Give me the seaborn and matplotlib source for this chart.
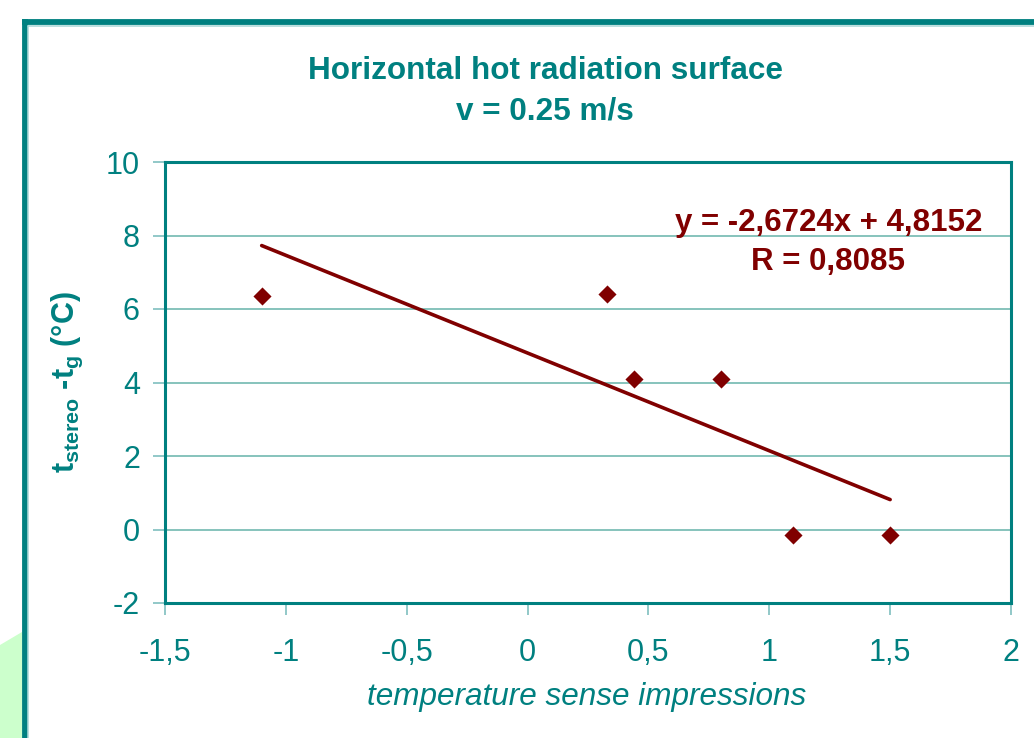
import numpy as np
import matplotlib
matplotlib.use("Agg")
import matplotlib.pyplot as plt
import seaborn as sns
from matplotlib.lines import Line2D
from matplotlib.patches import Polygon
from matplotlib.ticker import FuncFormatter

# values
impression = [-1.1, 0.33, 0.44, 0.8, 1.1, 1.5]
temp_diff = [6.35, 6.4, 4.1, 4.1, -0.15, -0.15]
x_ticks = [-1.5, -1, -0.5, 0, 0.5, 1, 1.5, 2]
y_ticks = [-2, 0, 2, 4, 6, 8, 10]
title_lines = ["Horizontal hot radiation surface", "v = 0.25 m/s"]
eq_text = "y = -2,6724x + 4,8152"
r_text = "R = 0,8085"

TEAL = "#008080"
LIGHT_TEAL = "#7FBFBF"
GRID = "#66B3AA"
DARK_RED = "#800000"

sns.set_theme(style="white")
plt.rcParams["font.family"] = ["Liberation Sans", "DejaVu Sans"]
plt.rcParams["mathtext.fontset"] = "custom"
plt.rcParams["mathtext.bf"] = "Liberation Sans:bold"
plt.rcParams["mathtext.rm"] = "Liberation Sans"

fig = plt.figure(figsize=(10.34, 7.38), dpi=100)
W, H = 1034, 738
ax = fig.add_axes([165 / W, 1 - 603 / H, (1011 - 165) / W, (603 - 162) / H])

sns.scatterplot(x=impression, y=temp_diff, marker="D", s=85, color=DARK_RED,
                edgecolor=DARK_RED, linewidth=0, ax=ax, zorder=3)
sns.regplot(x=impression, y=temp_diff, scatter=False, ci=None, color=DARK_RED,
            line_kws={"linewidth": 2.6}, ax=ax)

ax.set_xlim(-1.5, 2)
ax.set_ylim(-2, 10)
ax.set_xticks(x_ticks)
ax.set_yticks(y_ticks)
comma = FuncFormatter(lambda v, p: f"{v:g}".replace(".", ","))
ax.xaxis.set_major_formatter(comma)
ax.yaxis.set_major_formatter(comma)
ax.set_xlabel("")
ax.set_ylabel("")

ax.yaxis.grid(True, color=GRID, linewidth=1.1)
ax.xaxis.grid(False)
for s in ax.spines.values():
    s.set_color(TEAL)
    s.set_linewidth(2.2)
ax.tick_params(axis="both", direction="out", length=8.5, width=1.2,
               bottom=True, left=True, color=LIGHT_TEAL, labelcolor=TEAL,
               labelsize=22)
ax.tick_params(axis="x", pad=16.5)
ax.tick_params(axis="y", pad=9.5)

ax.text(0.784, 0.862, eq_text, transform=ax.transAxes, ha="center", va="center",
        fontsize=22.5, fontweight="bold", color=DARK_RED)
ax.text(0.784, 0.773, r_text, transform=ax.transAxes, ha="center", va="center",
        fontsize=22.5, fontweight="bold", color=DARK_RED)

fig.text(545 / W, 1 - 71 / H, title_lines[0], ha="center", va="center",
         fontsize=22.7, fontweight="bold", color=TEAL)
fig.text(545 / W, 1 - 111 / H, title_lines[1], ha="center", va="center",
         fontsize=22.7, fontweight="bold", color=TEAL)
fig.text(587 / W, 1 - 697 / H, "temperature sense impressions", ha="center",
         va="center", fontsize=22.7, style="italic", color=TEAL)
fig.text(67 / W, 1 - 382 / H, r"$\mathbf{t_{stereo}}$ -$\mathbf{t_{g}}$ (°C)",
         rotation=90, ha="center", va="center", fontsize=22,
         fontweight="bold", color=TEAL)

# slide frame and the green shape in the corner
fig.add_artist(Polygon([(0, 1 - 645 / H), (22 / W, 1 - 632 / H), (22 / W, 0), (0, 0)],
                       closed=True, transform=fig.transFigure,
                       facecolor="#CCFFCC", edgecolor="none"))
fig.add_artist(Line2D([24.5 / W, 24.5 / W], [0, 1 - 22 / H], transform=fig.transFigure,
                      color=TEAL, linewidth=4.2, solid_capstyle="projecting"))
fig.add_artist(Line2D([24.5 / W, 1], [1 - 22 / H, 1 - 22 / H], transform=fig.transFigure,
                      color=TEAL, linewidth=4.2, solid_capstyle="projecting"))
fig.add_artist(Line2D([28 / W, 28 / W], [0, 1 - 26 / H], transform=fig.transFigure,
                      color="#A8D6D6", linewidth=1.1))
fig.add_artist(Line2D([28 / W, 1], [1 - 26 / H, 1 - 26 / H], transform=fig.transFigure,
                      color="#A8D6D6", linewidth=1.1))

fig.savefig("out.png", dpi=100)
